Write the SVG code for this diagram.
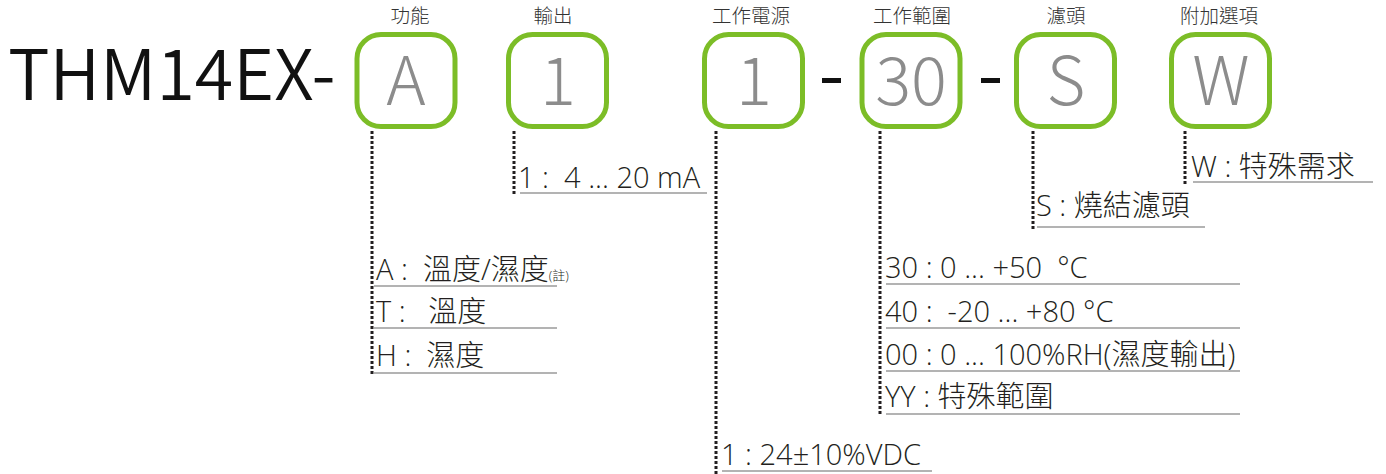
<svg xmlns="http://www.w3.org/2000/svg" width="1386" height="474" viewBox="0 0 1386 474">
<style>
text{font-family:"Noto Sans CJK TC","Noto Sans",sans-serif;white-space:pre;}
.box{fill:#fff;stroke:#7cbd27;stroke-width:5;}
.code{fill:#8c8c8c;font-size:67px;font-weight:300;text-anchor:middle;}
.head{fill:#333;font-size:19.5px;font-weight:300;text-anchor:middle;}
.item{fill:#231f20;font-size:29px;font-weight:300;font-family:"Open Sans","Noto Sans CJK TC",sans-serif;}
.uline{stroke:#9a9a9a;stroke-width:1.6;fill:none;}
.dot{stroke:#231f20;stroke-width:3;stroke-dasharray:3 2;fill:none;}
.dash{fill:#111;}
</style>
<rect width="1386" height="474" fill="#fff"/>
<g id="title">
<text x="8" y="100" font-size="70" font-weight="350" fill="#111">THM14EX-</text>
<rect class="dash" x="822" y="78" width="19" height="5"/>
<rect class="dash" x="981" y="78" width="19" height="5"/>
</g>
<g id="node-function">
<text class="head" x="410" y="23">功能</text>
<rect class="box" x="357" y="34.5" width="98" height="92" rx="24"/>
<text class="code" x="406" y="105">A</text>
</g>
<g id="node-output">
<text class="head" x="553" y="23">輸出</text>
<rect class="box" x="508.5" y="34.5" width="98" height="92" rx="24"/>
<text class="code" x="558" y="105">1</text>
</g>
<g id="node-power">
<text class="head" x="751" y="23">工作電源</text>
<rect class="box" x="704.5" y="34.5" width="98" height="92" rx="24"/>
<text class="code" x="754" y="105">1</text>
</g>
<g id="node-range">
<text class="head" x="912" y="23">工作範圍</text>
<rect class="box" x="862" y="34.5" width="98" height="92" rx="24"/>
<text class="code" x="911" y="105">30</text>
</g>
<g id="node-filter">
<text class="head" x="1066" y="23">濾頭</text>
<rect class="box" x="1016.5" y="34.5" width="98" height="92" rx="24"/>
<text class="code" x="1066" y="105">S</text>
</g>
<g id="node-option">
<text class="head" x="1219" y="23">附加選項</text>
<rect class="box" x="1171.5" y="34.5" width="98" height="92" rx="24"/>
<text class="code" x="1221" y="105">W</text>
</g>
<g id="connectors">
<line class="dot" x1="372" y1="131" x2="372" y2="376"/>
<line class="dot" x1="514" y1="131" x2="514" y2="195"/>
<line class="dot" x1="716" y1="131" x2="716" y2="474"/>
<line class="dot" x1="880" y1="131" x2="880" y2="416"/>
<line class="dot" x1="1033" y1="131" x2="1033" y2="230"/>
<line class="dot" x1="1185" y1="131" x2="1185" y2="184"/>
</g>
<g id="legend-function">
<text class="item" x="376" y="280">A :  溫度/濕度<tspan font-size="13">(註)</tspan></text>
<line class="uline" x1="374" y1="286" x2="557" y2="286"/>
<text class="item" x="376" y="322">T :   溫度</text>
<line class="uline" x1="374" y1="328" x2="557" y2="328"/>
<text class="item" x="376" y="366">H :  濕度</text>
<line class="uline" x1="374" y1="373" x2="557" y2="373"/>
</g>
<g id="legend-output">
<text class="item" x="518" y="188">1 :  4 ... 20 mA</text>
<line class="uline" x1="520" y1="193" x2="707" y2="193"/>
</g>
<g id="legend-power">
<text class="item" x="721" y="465">1 : 24±10%VDC</text>
<line class="uline" x1="722" y1="471" x2="932" y2="471"/>
</g>
<g id="legend-range">
<text class="item" x="885" y="278">30 : 0 ... +50  °C</text>
<line class="uline" x1="886" y1="284" x2="1240" y2="284"/>
<text class="item" x="885" y="322">40 :  -20 ... +80 °C</text>
<line class="uline" x1="886" y1="328" x2="1240" y2="328"/>
<text class="item" x="885" y="365">00 : 0 ... 100%RH(濕度輸出)</text>
<line class="uline" x1="886" y1="371" x2="1240" y2="371"/>
<text class="item" x="885" y="407">YY : 特殊範圍</text>
<line class="uline" x1="886" y1="414" x2="1240" y2="414"/>
</g>
<g id="legend-filter">
<text class="item" x="1036" y="216">S : 燒結濾頭</text>
<line class="uline" x1="1037" y1="227" x2="1205" y2="227"/>
</g>
<g id="legend-option">
<text class="item" x="1191" y="177">W : 特殊需求</text>
<line class="uline" x1="1193" y1="182" x2="1373" y2="182"/>
</g>
</svg>
